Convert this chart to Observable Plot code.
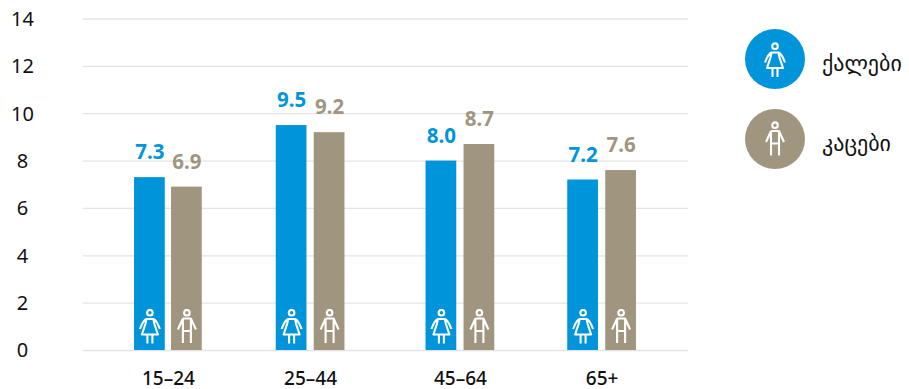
<!DOCTYPE html>
<html><head><meta charset="utf-8">
<script src="https://cdn.jsdelivr.net/npm/d3@7"></script>
<script src="https://cdn.jsdelivr.net/npm/@observablehq/plot@0.6"></script>
<style>
html,body{margin:0;padding:0;background:#fff;overflow:hidden}
#wrap{position:relative;width:909px;height:389px}
.lg{position:absolute;left:745px;width:60px;height:60px;border-radius:50%}
.lg svg{position:absolute;left:0;top:0}
.lt{position:absolute;left:822px;font:22px "DejaVu Sans",sans-serif;color:#111;line-height:28px;white-space:nowrap}
</style></head><body><div id="wrap"></div>
<script>
const ageGroups = ["15–24","25–44","45–64","65+"];
const women = [7.3,9.5,8.0,7.2];
const men = [6.9,9.2,8.7,7.6];
const seriesNames = ["ქალები","კაცები"];
const seriesColors = ["#0095DA","#A09680"];
const yTicks = [0,2,4,6,8,10,12,14];

const rows = ageGroups.flatMap((g,i)=>[
  {group:g,sex:seriesNames[0],value:women[i]},
  {group:g,sex:seriesNames[1],value:men[i]}
]);
const figure = kind=>{
  const body = kind===0
    ? `<path d="M8.5 10.5 C6.5 11 5 12.5 2 20.5 M15.5 10.5 C17.5 11 19 12.5 22 20.5 M8.5 10.5 H15.5 L16.5 15.5 L20 26 H4 L7.5 15.5 Z M9.5 26 V35 M14.5 26 V35"/>`
    : `<path d="M8 10 H16 L21 21 M8 10 L3 21 M8 10 V34.5 M16 10 V34.5 M8 22.5 H16"/>`;
  return `<g fill="none" stroke="#fff" stroke-width="2.1" stroke-linejoin="round"><circle cx="12" cy="4.2" r="2.8"/>${body}</g>`;
};
const uri = k=>"data:image/svg+xml;utf8,"+encodeURIComponent(`<svg xmlns="http://www.w3.org/2000/svg" width="24" height="38" viewBox="0 0 24 38">${figure(k)}</svg>`);

const nudge = [8.4,-0.4,-1.6,-10.9];
const spread = [18.5,19,19,19];
const font = "'Noto Sans',sans-serif";
const plot = Plot.plot({
  width:909,height:389,
  marginLeft:83,marginRight:221,marginTop:18.5,marginBottom:39,
  style:{background:"transparent",overflow:"visible"},
  x:{type:"band",domain:ageGroups,paddingInner:0,paddingOuter:0,axis:null},
  y:{domain:[0,14],axis:null},
  color:{domain:seriesNames,range:seriesColors},
  marks:[
    Plot.ruleY(yTicks,{stroke:"#e4e4e4",strokeWidth:1.3}),
    Plot.axisY(yTicks,{tickSize:0,tickPadding:0,anchor:"left",label:null,fontSize:20,fill:"#111",color:"#111",dx:-61,dy:0.5,textAnchor:"middle",fontFamily:font}),
    ...ageGroups.flatMap((g,i)=>{
      const d=rows.filter(r=>r.group===g);
      return d.flatMap((r,j)=>{
        const dx=(j===0?-spread[i]:spread[i])+nudge[i];
        const inset=151.25/2-15.5;
        return [
          Plot.barY([r],{x:"group",y:"value",fill:"sex",insetLeft:inset+dx,insetRight:inset-dx}),
          Plot.text([r],{x:"group",y:"value",text:v=>v.value.toFixed(1),dx,dy:-25,fill:"sex",fontSize:20.5,fontWeight:700,fontFamily:font}),
          Plot.image([r],{x:"group",y:()=>0,src:()=>uri(j),width:24,height:38,dx,dy:-23})
        ];
      });
    }),
    ...ageGroups.map((g,i)=>Plot.text([g],{x:d=>d,y:()=>0,text:d=>d,dx:nudge[i],dy:28,fontSize:19,fontWeight:500,fill:"#111",fontFamily:font}))
  ]
});
const wrap=document.getElementById("wrap");
wrap.appendChild(plot);
seriesNames.forEach((n,i)=>{
  const top=[29,109][i];
  const c=document.createElement("div");c.className="lg";c.style.top=top+"px";c.style.background=seriesColors[i];
  c.innerHTML=`<svg width="60" height="60" viewBox="0 0 60 60"><g transform="translate(18,${[13,12][i]})">${figure(i)}</g></svg>`;
  wrap.appendChild(c);
  const t=document.createElement("div");t.className="lt";t.textContent=n;t.style.top=(top+21)+"px";
  wrap.appendChild(t);
});
</script></body></html>
